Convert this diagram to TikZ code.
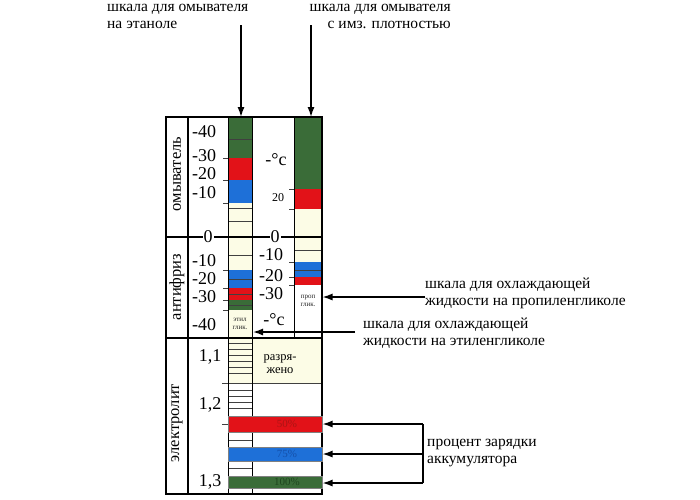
\documentclass[tikz,border=0pt]{standalone}
\usepackage{fontspec}
\setmainfont{Liberation Serif}
\usetikzlibrary{arrows.meta}
\definecolor{cgreen}{RGB}{58,108,56}
\definecolor{cred}{RGB}{226,18,24}
\definecolor{cblue}{RGB}{30,112,216}
\definecolor{cream}{RGB}{252,252,230}
\definecolor{tred}{RGB}{170,20,20}
\definecolor{tblue}{RGB}{20,80,170}
\definecolor{tgreen}{RGB}{30,70,30}
\tikzset{
  frame/.style={line width=1.2pt, black},
  fine/.style={line width=0.6pt, black!75},
  arr/.style={line width=1.4pt, -{Latex[length=10pt,width=7pt]}},
  lbl/.style={font=\fontsize{15.5}{17}\selectfont, inner sep=0pt, align=left, text=black},
  num/.style={font=\fontsize{18}{18}\selectfont, inner sep=0pt, text=black},
  small/.style={font=\fontsize{12}{12}\selectfont, inner sep=0pt, text=black},
  tiny/.style={font=\fontsize{7}{8}\selectfont, inner sep=0pt, align=center, text=black!85},
  side/.style={font=\fontsize{16.5}{16}\selectfont, inner sep=0pt, rotate=90, text=black},
  bandtxt/.style={font=\fontsize{11}{11}\selectfont, inner sep=0pt},
}
\begin{document}
\begin{tikzpicture}[x=1pt,y=-1pt]
\useasboundingbox (0,0) rectangle (700,499);
% ---------- fills: top section
\fill[cgreen] (228,117) rectangle (252,158);
\fill[cred]   (228,158) rectangle (252,180);
\fill[cblue]  (228,180) rectangle (252,203);
\fill[cream]  (228,203) rectangle (252,237);
\fill[cgreen] (294,117) rectangle (322,189);
\fill[cred]   (294,189) rectangle (322,209);
\fill[cream]  (294,209) rectangle (322,237);
% ---------- fills: antifreeze
\fill[cream]  (228,237) rectangle (252,270);
\fill[cblue]  (228,270) rectangle (252,288);
\fill[cred]   (228,288) rectangle (252,300);
\fill[cgreen] (228,300) rectangle (252,310);
\fill[cream]  (228,310) rectangle (252,338);
\fill[cream]  (294,237) rectangle (322,262);
\fill[cblue]  (294,262) rectangle (322,277);
\fill[cred]   (294,277) rectangle (322,285);
% ---------- fills: electrolyte
\fill[cream]  (228,338) rectangle (322,383);
% ---------- fine scale lines
\foreach \y in {139,208,221} \draw[fine] (228,\y) -- (252,\y);
\foreach \y in {158,180,203} \draw[fine] (223,\y) -- (228,\y);
\foreach \y in {189,209} \draw[fine] (289,\y) -- (294,\y);
\foreach \y in {255,279,294,305} \draw[fine] (228,\y) -- (252,\y);
\foreach \y in {270,288,300,310} \draw[fine] (223,\y) -- (228,\y);
\foreach \y in {250,270} \draw[fine] (294,\y) -- (322,\y);
\foreach \y in {262,277,285} \draw[fine] (289,\y) -- (294,\y);
\foreach \y in {343,349,355,361,367,373,390,396,402,408,440,468} \draw[fine] (228,\y) -- (252,\y);
\draw[fine] (222,383) -- (322,383);
\draw[fine] (222,424) -- (228,424);
% ---------- frame
\draw[frame] (166,117) rectangle (322,494);
\draw[frame] (188,117) -- (188,494);
\draw[line width=0.8pt] (228,117) -- (228,494);
\draw[line width=0.8pt] (252.5,117) -- (252.5,494);
\draw[line width=0.8pt] (294,117) -- (294,338);
\draw[frame] (166,237) -- (322,237);
\draw[frame] (166,338) -- (322,338);
% ---------- bands
\filldraw[fill=cred, draw=black!50, line width=0.4pt]   (228,416) rectangle (322,432);
\filldraw[fill=cblue, draw=black!50, line width=0.4pt]  (228,447) rectangle (322,461);
\filldraw[fill=cgreen, draw=black!50, line width=0.4pt] (228,476) rectangle (322,488);
\node[bandtxt, text=tred]   (p50)  at (287,424) {50\%};
\node[bandtxt, text=tblue]  (p75)  at (287,454) {75\%};
\node[bandtxt, text=tgreen] (p100) at (287,482) {100\%};
% ---------- side labels
\node[side] (somy) at (177,174) {омыватель};
\node[side] (santi) at (177,287) {антифриз};
\node[side] (selec) at (177,423) {электролит};
% ---------- numbers top
\node[num] (n40) at (204,132) {-40};
\node[num] (n30) at (204,156) {-30};
\node[num] (n20) at (204,174) {-20};
\node[num] (n10) at (204,193) {-10};
\node[num, fill=white, inner sep=1pt] (n0a) at (208,237) {0};
\node[num, fill=white, inner sep=1pt] (n0b) at (275,237) {0};
\node[num] (c1) at (276,160) {-°c};
\node[small] (r20) at (278,198) {20};
% ---------- numbers antifreeze
\node[num] (a10) at (204,261) {-10};
\node[num] (a20) at (204,279) {-20};
\node[num] (a30) at (204,297) {-30};
\node[num] (a40) at (204,325) {-40};
\node[num] (b10) at (271,255) {-10};
\node[num] (b20) at (271,276) {-20};
\node[num] (b30) at (271,294) {-30};
\node[num] (c2) at (274,320) {-°c};
\node[tiny] (etil) at (240,324) {этил\\глик.};
\node[tiny] (prop) at (308,301) {проп\\глик.};
% ---------- electrolyte
\node[num] (e11) at (210,357) {1,1};
\node[num] (e12) at (210,405) {1,2};
\node[num] (e13) at (210,482) {1,3};
\node[font=\fontsize{12.5}{13}\selectfont, inner sep=0pt, align=center, text=black] (razr) at (280,364) {разря-\\жено};
% ---------- top labels and arrows
\node[lbl, anchor=north west] (tEt) at (107,4) {шкала для омывателя\\на этаноле};
\node[lbl, anchor=north east, align=right] (tDen) at (451,4) {шкала для омывателя\\с имз. плотностью};
\coordinate (etS) at (241,25);
\coordinate (etE) at (241,117);
\coordinate (dnS) at (311,25);
\coordinate (dnE) at (311,117);
\draw[arr] (etS) -- (etE);
\draw[arr] (dnS) -- (dnE);
% ---------- right labels and arrows
\node[lbl, anchor=west] (lP) at (425,293.5) {шкала для охлаждающей\\жидкости на пропиленгликоле};
\coordinate (pgE) at (322.5,297);
\draw[arr] (lP.west |- pgE) -- (pgE);
\node[lbl, anchor=west] (lE) at (363,333.5) {шкала для охлаждающей\\жидкости на этиленгликоле};
\coordinate (egS) at (355,332);
\coordinate (egE) at (253,332);
\draw[arr] (egS) -- (egE);
\node[lbl, anchor=west] (lA) at (427,453) {процент зарядки\\аккумулятора};
\coordinate (bt) at (423,424);
\coordinate (bm) at (423,454);
\coordinate (bb) at (423,483);
\coordinate (a50) at (322.5,424);
\coordinate (a75) at (322.5,454);
\coordinate (a100) at (322.5,483);
\draw[line width=1.4pt] (bt) -- (bb);
\draw[arr] (bt) -- (a50);
\draw[arr] (bm) -- (a75);
\draw[arr] (bb) -- (a100);
\end{tikzpicture}
\end{document}
